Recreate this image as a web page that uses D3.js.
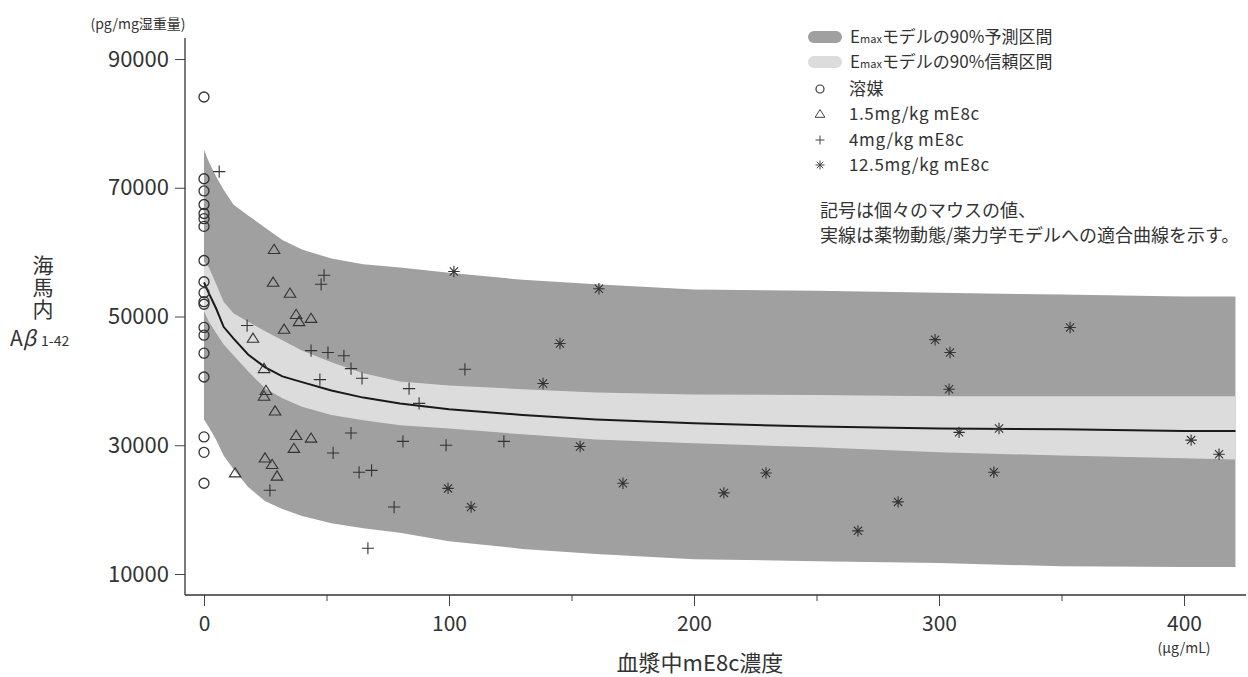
<!DOCTYPE html>
<html>
<head>
<meta charset="utf-8">
<script src="https://cdn.jsdelivr.net/npm/d3@7"></script>
<style>
  body { margin: 0; background: #fff; }
  text { font-family: "Noto Sans CJK JP", "Noto Sans", sans-serif; fill: #333; }
</style>
</head>
<body>
<svg width="1248" height="677"></svg>
<script>
const bandX   = [0, 2, 5, 8, 12, 18, 25, 32, 40, 52, 65, 80, 100, 130, 160, 200, 250, 300, 350, 400, 421];
// Emax model 90% prediction interval
const piUpper = [75900, 74000, 71700, 69700, 67400, 65700, 63800, 61900, 60400, 59000, 58100, 57600, 56800, 55700, 55000, 54200, 54000, 53700, 53400, 53100, 53100];
const piLower = [34000, 32800, 30800, 28400, 26300, 23500, 21300, 20100, 19000, 17900, 17100, 16400, 15100, 13900, 13100, 12300, 12000, 11700, 11200, 11100, 11100];
// Emax model 90% confidence interval
const ciUpper = [58500, 57600, 55000, 52300, 50500, 49200, 47700, 46300, 44700, 42900, 41200, 39900, 39300, 38700, 38200, 37900, 37800, 37600, 37600, 37600, 37600];
const ciLower = [50800, 49200, 47400, 45700, 44000, 41500, 38800, 37300, 36000, 34700, 33900, 33100, 32600, 31700, 30900, 30300, 29700, 28900, 28400, 28000, 27800];
// fitted PK/PD curve
const fitLine = [55300, 53600, 51200, 48400, 46600, 44100, 42100, 40700, 39800, 38500, 37400, 36500, 35600, 34700, 34000, 33400, 32900, 32600, 32500, 32200, 32200];

// individual mice [concentration, Abeta]
const vehicle = [[0, 84100], [0, 71400], [0, 69500], [0, 67400], [0, 66000], [0, 65200], [0, 64000],
  [0, 58700], [0, 55400], [0, 53700], [0, 52300], [0, 51900], [0, 48300], [0, 47100], [0, 44300],
  [0, 40600], [0, 31300], [0, 28900], [0, 24100]];
const dose15 = [[28.6, 60400], [28.2, 55300], [35.1, 53600], [37.6, 50300], [38.8, 49200], [43.7, 49700],
  [32.7, 48000], [20.0, 46600], [24.5, 41900], [25.3, 38500], [24.5, 37600], [29.0, 35300], [37.6, 31500],
  [43.7, 31100], [36.7, 29500], [24.9, 28000], [27.8, 27000], [12.7, 25700], [29.8, 25200]];
const dose4 = [[6.2, 72500], [49.0, 56400], [47.8, 55000], [17.6, 48600], [43.7, 44700], [50.6, 44400],
  [57.1, 43900], [60.0, 41900], [64.5, 40400], [47.3, 40200], [60.0, 31900], [52.7, 28800], [63.3, 25800],
  [68.4, 26100], [26.9, 23000], [66.9, 14000], [106.5, 41800], [83.7, 38800], [87.8, 36500], [81.2, 30600],
  [98.8, 30000], [122.4, 30600], [77.6, 20400]];
const dose125 = [[102.0, 57000], [161.2, 54300], [145.3, 45800], [138.4, 39600], [153.5, 29800],
  [171.0, 24100], [99.6, 23300], [109.0, 20400], [229.4, 25700], [212.2, 22600], [283.3, 21200],
  [266.9, 16700], [298.4, 46400], [304.5, 44400], [304.1, 38700], [308.2, 32000], [324.5, 32600],
  [322.4, 25800], [353.5, 48300], [402.9, 30800], [414.3, 28600]];

const yTicks = [10000, 30000, 50000, 70000, 90000];
const xTicks = [0, 100, 200, 300, 400];
const xMinor = [50, 150, 250, 350];

const svg = d3.select("svg");
const x = d3.scaleLinear().domain([0, 400]).range([204, 1184]);
const y = d3.scaleLinear().domain([10000, 90000]).range([574, 59]);

// bands
const piArea = d3.area().x((d, i) => x(bandX[i])).y0((d, i) => y(piLower[i])).y1(d => y(d));
const ciArea = d3.area().x((d, i) => x(bandX[i])).y0((d, i) => y(ciLower[i])).y1(d => y(d));
svg.append("path").attr("d", piArea(piUpper)).attr("fill", "#a0a0a0");
svg.append("path").attr("d", ciArea(ciUpper)).attr("fill", "#dcdcdc");

const line = d3.line().x((d, i) => x(bandX[i])).y(d => y(d));
svg.append("path").attr("d", line(fitLine)).attr("fill", "none")
  .attr("stroke", "#1a1a1a").attr("stroke-width", 2);

// symbols
const triangle = { draw(ctx, size) { const r = Math.sqrt(size) / 2;
  ctx.moveTo(0, -r); ctx.lineTo(r * 1.1, r * 0.75); ctx.lineTo(-r * 1.1, r * 0.75); ctx.closePath(); } };
const plus = { draw(ctx, size) { const r = Math.sqrt(size) / 2;
  ctx.moveTo(-r, 0); ctx.lineTo(r, 0); ctx.moveTo(0, -r); ctx.lineTo(0, r); } };
const star = { draw(ctx, size) { const r = Math.sqrt(size) / 2, d = r * 0.72;
  ctx.moveTo(-r, 0); ctx.lineTo(r, 0); ctx.moveTo(0, -r); ctx.lineTo(0, r);
  ctx.moveTo(-d, -d); ctx.lineTo(d, d); ctx.moveTo(-d, d); ctx.lineTo(d, -d); } };

const groups = [
  { data: vehicle, type: "circle" },
  { data: dose15, type: triangle, size: 110 },
  { data: dose4, type: plus, size: 150 },
  { data: dose125, type: star, size: 130 }
];
groups.forEach(g => {
  const sel = svg.append("g").selectAll("x").data(g.data).enter();
  if (g.type === "circle") {
    sel.append("circle").attr("cx", d => x(d[0])).attr("cy", d => y(d[1])).attr("r", 5)
      .attr("fill", "none").attr("stroke", "#333").attr("stroke-width", 1.3);
  } else {
    sel.append("path").attr("transform", d => "translate(" + x(d[0]) + "," + y(d[1]) + ")")
      .attr("d", d3.symbol().type(g.type).size(g.size))
      .attr("fill", "none").attr("stroke", "#333").attr("stroke-width", 1.1);
  }
});

// axes
const yAxis = svg.append("g").attr("transform", "translate(185,0)")
  .call(d3.axisLeft(y).tickValues(yTicks).tickSize(10).tickPadding(6).tickSizeOuter(0).tickFormat(d3.format("d")));
yAxis.select(".domain").remove();
yAxis.selectAll("text").style("font-size", "22px").attr("fill", "#3a3a3a");
yAxis.selectAll("line").attr("stroke", "#444");
svg.append("line").attr("x1", 185).attr("x2", 185).attr("y1", 38).attr("y2", 595)
  .attr("stroke", "#333").attr("stroke-width", 1.3);

const xAxis = svg.append("g").attr("transform", "translate(0,595)")
  .call(d3.axisBottom(x).tickValues(xTicks).tickSize(11).tickPadding(10).tickSizeOuter(0));
xAxis.select(".domain").remove();
xAxis.selectAll("text").style("font-size", "21px").attr("fill", "#3a3a3a");
xAxis.selectAll("line").attr("stroke", "#444");
const xMin = svg.append("g").attr("transform", "translate(0,595)")
  .call(d3.axisBottom(x).tickValues(xMinor).tickSize(6).tickFormat("").tickSizeOuter(0));
xMin.select(".domain").remove();
xMin.selectAll("line").attr("stroke", "#444");
svg.append("line").attr("x1", 185).attr("x2", 1246).attr("y1", 595).attr("y2", 595)
  .attr("stroke", "#333").attr("stroke-width", 1.3);

// axis titles
svg.append("text").attr("x", 700).attr("y", 671).attr("text-anchor", "middle")
  .style("font-size", "22px").text("血漿中mE8c濃度");
svg.append("text").attr("x", 1184).attr("y", 653).attr("text-anchor", "middle")
  .style("font-size", "14px").text("(μg/mL)");
svg.append("text").attr("x", 138).attr("y", 29).attr("text-anchor", "middle")
  .style("font-size", "14px").text("(pg/mg湿重量)");
// stacked y title, one vertical text
svg.append("text").attr("x", 43).attr("y", 255)
  .style("writing-mode", "vertical-rl").style("font-size", "21px").style("letter-spacing", "1px")
  .text("海馬内");
const ab = svg.append("text").attr("x", 10).attr("y", 346).style("font-size", "21px");
ab.append("tspan").text("A");
ab.append("tspan").style("font-style", "italic").text("β");
ab.append("tspan").attr("dx", 5).style("font-size", "14px").text("1-42");

// legend
const legend = svg.append("g");
[["予測区間", "#a0a0a0", 37], ["信頼区間", "#dcdcdc", 62]].forEach(r => {
  legend.append("rect").attr("x", 808).attr("y", r[2] - 6).attr("width", 34).attr("height", 12)
    .attr("rx", 6).attr("fill", r[1]);
  const t = legend.append("text").attr("x", 850).attr("y", r[2] + 6).style("font-size", "17px");
  t.append("tspan").text("E");
  t.append("tspan").style("font-size", "11px").text("max");
  t.append("tspan").text("モデルの90%" + r[0]);
});
const legendRows = [["溶媒", "circle", 89], ["1.5mg/kg mE8c", triangle, 114],
  ["4mg/kg mE8c", plus, 140], ["12.5mg/kg mE8c", star, 165]];
legendRows.forEach(r => {
  if (r[1] === "circle") {
    legend.append("circle").attr("cx", 820).attr("cy", r[2]).attr("r", 4)
      .attr("fill", "none").attr("stroke", "#333").attr("stroke-width", 1.2);
  } else {
    legend.append("path").attr("transform", "translate(820," + r[2] + ")")
      .attr("d", d3.symbol().type(r[1]).size(80))
      .attr("fill", "none").attr("stroke", "#444").attr("stroke-width", 1);
  }
  legend.append("text").attr("x", 849).attr("y", r[2] + 6).style("font-size", "17px")
    .style("letter-spacing", "0.6px").text(r[0]);
});
legend.append("text").attr("x", 820).attr("y", 217).style("font-size", "18px").text("記号は個々のマウスの値、");
legend.append("text").attr("x", 820).attr("y", 242).style("font-size", "18px").text("実線は薬物動態/薬力学モデルへの適合曲線を示す。");
</script>
</body>
</html>
